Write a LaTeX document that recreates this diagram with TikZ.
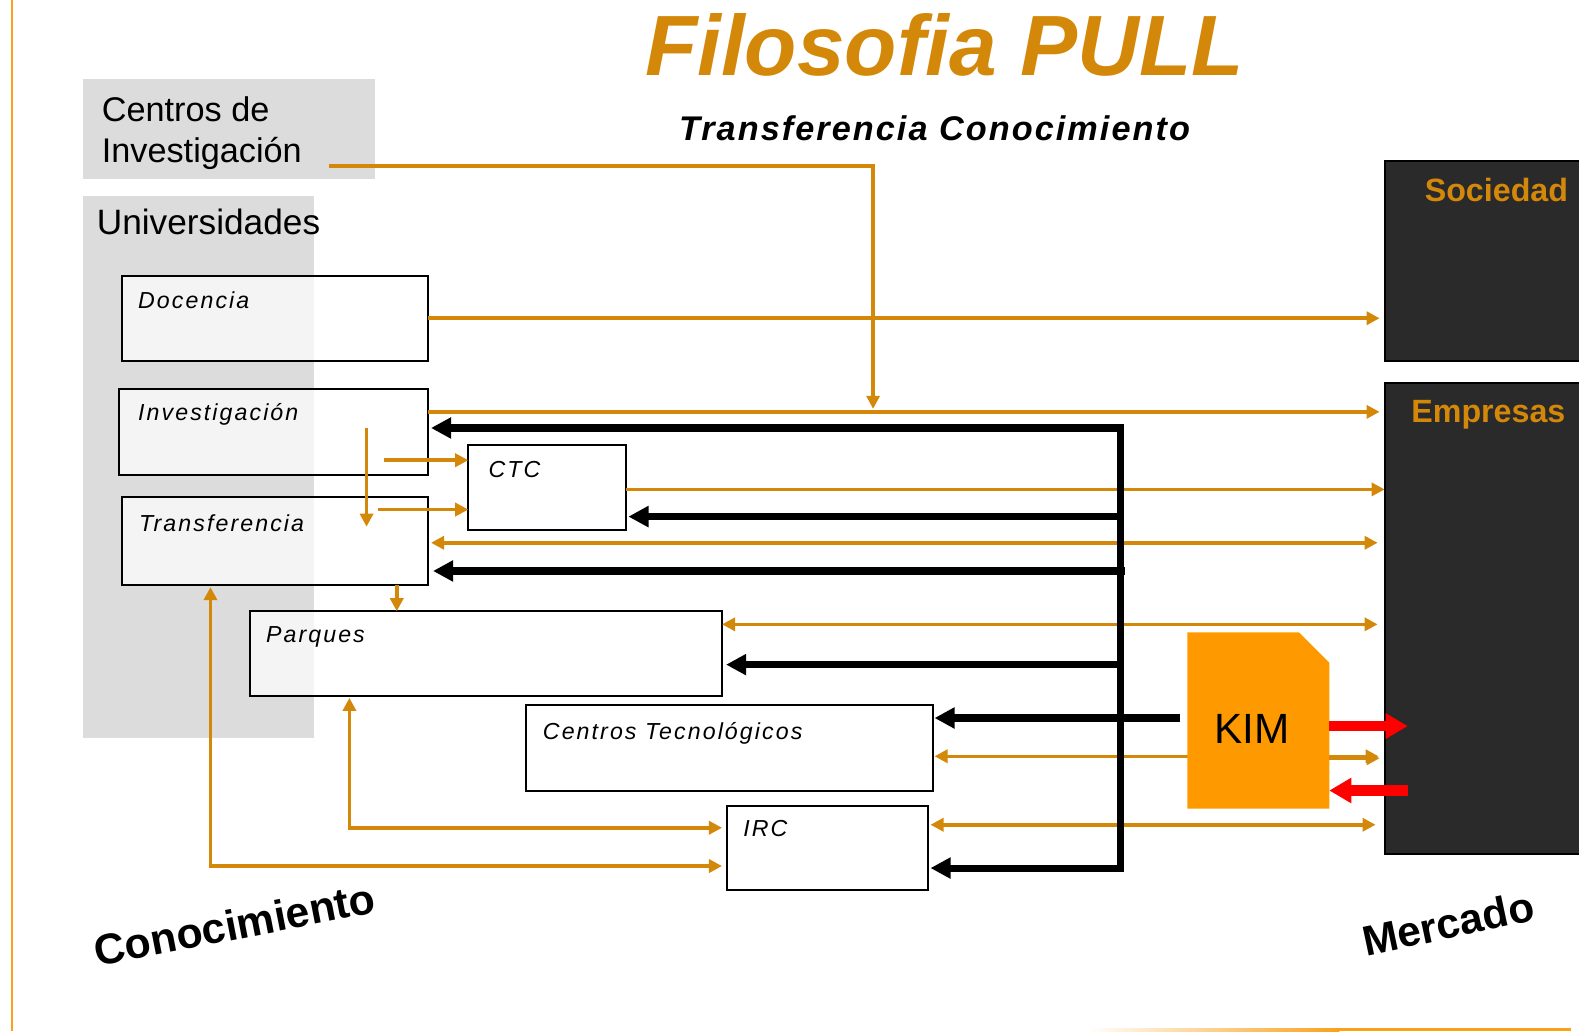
\documentclass[tikz,border=0pt]{standalone}
\usepackage{fontspec}
\setmainfont{Liberation Sans}
\newfontfamily\tagfont[LetterSpace=9]{Liberation Sans}
\newfontfamily\subfont[LetterSpace=6]{Liberation Sans}
\usetikzlibrary{arrows.meta}
\definecolor{linkorange}{HTML}{D4880A}
\definecolor{kimorange}{HTML}{FF9900}
\definecolor{edgeorange}{HTML}{F9A11B}
\definecolor{panelgray}{HTML}{DCDCDC}
\definecolor{darkpanel}{HTML}{2A2A2A}
\definecolor{alertred}{HTML}{FF0000}

\begin{document}
\begin{tikzpicture}[x=1pt,y=-1pt,
  otip/.tip={Triangle[length=13pt,width=13pt]},
  btip/.tip={Triangle[length=20pt,width=20pt]},
  rtip/.tip={Triangle[length=22pt,width=24pt]},
  panel/.style={fill=panelgray, draw=none, anchor=north west, inner sep=0, outer sep=0},
  unit/.style={draw=black, line width=2pt, fill=white, fill opacity=0.7, anchor=north west, inner sep=0, outer sep=0},
  market/.style={fill=darkpanel, draw=black, line width=2pt, anchor=north west, inner sep=0, outer sep=0},
  tag/.style={font=\tagfont\itshape\fontsize{23}{27}\selectfont, anchor=base west, inner sep=0},
  head/.style={font=\fontsize{34}{41}\selectfont, anchor=base west, inner sep=0},
  mkt/.style={font=\bfseries\fontsize{32}{38}\selectfont, text=linkorange, anchor=base, inner sep=0},
  oline/.style={draw=linkorange, line width=3.5pt},
  bline/.style={draw=black, line width=7pt},
  rline/.style={draw=alertred, line width=10pt},
  kimbox/.style={rectangle, inner sep=0, outer sep=0, minimum width=141pt, minimum height=175pt,
    path picture={\fill[kimorange] (path picture bounding box.south west)
      -- (path picture bounding box.north west)
      -- ([xshift=-30pt]path picture bounding box.north east)
      -- ([yshift=-30pt]path picture bounding box.north east)
      -- (path picture bounding box.south east) -- cycle;}}
]
\useasboundingbox (0,0) rectangle (1568,1024);

% page frame accents
\draw[edgeorange, line width=2.5pt] (12,0) -- (12,1024);
\shade[left color=white, right color=edgeorange] (1080,1021) rectangle (1330,1024);
\fill[edgeorange] (1330,1021) rectangle (1560,1024);

% headings
\node[font=\bfseries\itshape\fontsize{85}{100}\selectfont, text=linkorange, anchor=base, inner sep=0] (title) at (938,75) {Filosofia PULL};
\node[font=\subfont\bfseries\itshape\fontsize{34}{40}\selectfont, anchor=base, inner sep=0] (subtitle) at (928,140) {Transferencia Conocimiento};

% knowledge side panels
\node[panel, minimum width=290pt, minimum height=100pt] (cdi) at (82,78) {};
\node[panel, minimum width=230pt, minimum height=538pt] (uni) at (82,195) {};
\node[head] (cdiA) at (101,121) {Centros de};
\node[head] (cdiB) at (101,161) {Investigación};
\node[head, font=\fontsize{35}{41}\selectfont] (uniT) at (96,233) {Universidades};

% agents
\node[unit, minimum width=304pt, minimum height=84pt] (doc) at (121,274) {};
\node[unit, minimum width=307pt, minimum height=86pt] (inv) at (118,386) {};
\node[unit, minimum width=304pt, minimum height=87pt] (tra) at (121,494) {};
\node[unit, minimum width=157pt, minimum height=84pt] (ctc) at (465,442) {};
\node[unit, minimum width=469pt, minimum height=84pt] (par) at (248,607) {};
\node[unit, minimum width=404pt, minimum height=85pt] (cte) at (522,700) {};
\node[unit, minimum width=200pt, minimum height=84pt] (irc) at (722,800) {};

\node[tag] (docT) at (137,306) {Docencia};
\node[tag] (invT) at (137,418) {Investigación};
\node[tag] (traT) at (138,528) {Transferencia};
\node[tag] (ctcT) at (485,474) {CTC};
\node[tag] (parT) at (264,638) {Parques};
\node[tag] (cteT) at (539,734) {Centros Tecnológicos};
\node[tag] (ircT) at (738,831) {IRC};

% market side
\node[market, minimum width=220pt, minimum height=198pt] (soc) at (1375,160) {};
\node[market, minimum width=220pt, minimum height=468pt] (emp) at (1375,380) {};
\node[mkt] (socT) at (1486,200) {Sociedad};
\node[mkt] (empT) at (1478,420) {Empresas};

% knowledge flows (orange)
\coordinate (cdiOut) at (327,165);
\coordinate (drop) at (867,406);
\coordinate (invDown) at (364,425);
\coordinate (invR1) at (381,457);
\coordinate (invR2) at (375,506);
\draw[oline,-{otip}] (cdiOut) -| (drop);
\draw[oline,-{otip}, shorten >=5pt] (doc.east) -- (soc.west |- doc.east);
\draw[oline,-{otip}, shorten >=5pt] (inv.east |- 0,409) -- (emp.west |- 0,409);
\draw[oline,-{otip}] (invDown) -- ++(0,98);
\draw[oline,-{otip}] (invR1) -- (ctc.west |- invR1);
\draw[oline,-{otip}] (invR2) -- (ctc.west |- invR2);
\draw[oline,-{otip}] (ctc.east |- 0,486) -- (emp.west |- 0,486);
\draw[oline,{otip}-{otip}, shorten <=3pt, shorten >=7pt] (tra.east |- 0,539) -- (emp.west |- 0,539);
\draw[oline,-{otip}] (tra.south -| 394,0) -- (par.north -| 394,0);
\draw[oline,{otip}-{otip}, shorten >=7pt] (par.east |- 0,620) -- (emp.west |- 0,620);
\draw[oline,{otip}-{otip}, shorten <=2pt, shorten >=6pt] (cte.east |- 0,751) -- (emp.west |- 0,751);
\draw[oline,{otip}-{otip}, shorten <=2pt, shorten >=9pt] (irc.east |- 0,819) -- (emp.west |- 0,819);
\draw[oline,{otip}-{otip}, shorten <=2pt, shorten >=5pt] (par.south -| 347,0) |- (irc.west |- 0,822);
\draw[oline,{otip}-{otip}, shorten <=2pt, shorten >=5pt] (tra.south -| 209,0) |- (irc.west |- 0,860);

% demand flows (black)
\coordinate (busT) at (1113,425);
\coordinate (busB) at (1113,862);
\draw[bline,{btip}-{btip}, line join=miter, shorten <=3pt, shorten >=2pt] (inv.east |- busT) -- (busT) -- (busB) -- (irc.east |- busB);
\draw[bline,-{btip}, shorten >=2pt] (busT |- 0,513) -- (ctc.east |- 0,513);
\draw[bline,-{btip}, shorten >=5pt] ([xshift=4pt]busT |- 0,567) -- (tra.east |- 0,567);
\draw[bline,-{btip}, shorten >=4pt] (busT |- 0,660) -- (par.east |- 0,660);

% KIM
\node[kimbox] (kim) at (1249.5,715.5) {};
\node[font=\fontsize{42}{50}\selectfont, inner sep=0] (kimT) at (1243,724) {KIM};
\draw[bline,-{btip}, shorten <=7pt, shorten >=2pt] (kim.west |- 0,713) -- (cte.east |- 0,713);
\draw[oline,-{otip}, shorten >=5pt] (kim.east |- 0,753) -- (emp.west |- 0,753);
\coordinate (kimOut) at (1398,721);
\coordinate (kimIn) at (1398,785);
\draw[rline,-{rtip}] (kim.east |- kimOut) -- (kimOut);
\draw[rline,-{rtip}] (kimIn) -- (kim.east |- kimIn);

% axis captions
\node[font=\bfseries\fontsize{42.5}{48}\selectfont, rotate=11, inner sep=0] (know) at (233,918) {Conocimiento};
\node[font=\bfseries\fontsize{42}{48}\selectfont, rotate=12, inner sep=0] (mercado) at (1438,917) {Mercado};
\end{tikzpicture}
\end{document}
